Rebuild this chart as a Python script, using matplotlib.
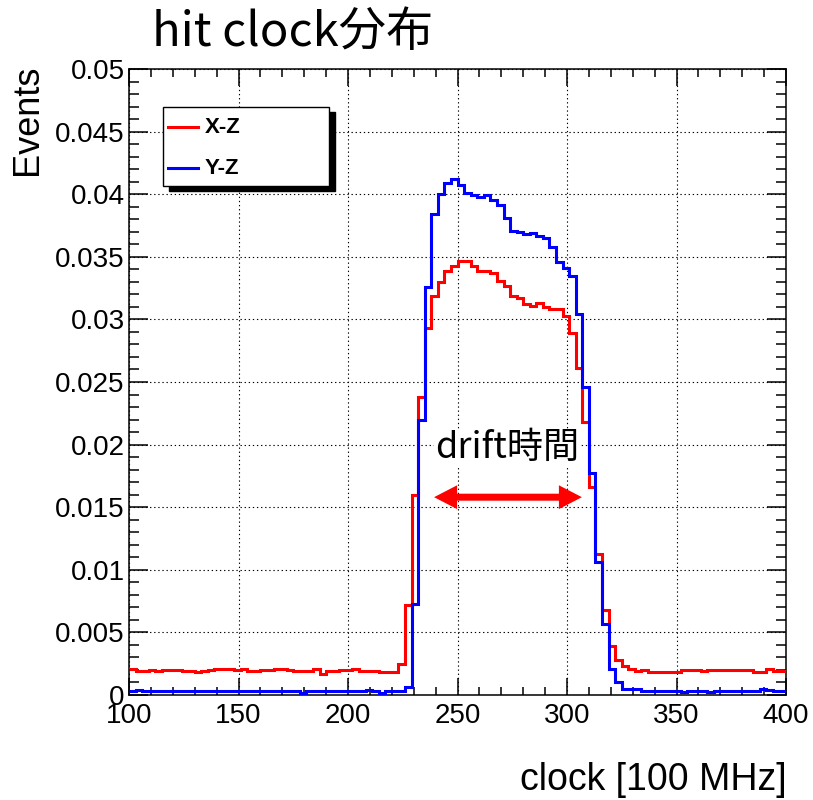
import numpy as np
import matplotlib
matplotlib.use("Agg")
import matplotlib.pyplot as plt
from matplotlib.patches import Rectangle
from matplotlib.lines import Line2D

# histogram binning: 100 bins of 3 clocks from 100 to 400
X_MIN, X_MAX, BIN_W = 100, 400, 3
edges = np.arange(X_MIN, X_MAX + 1, BIN_W)

# X-Z (red), normalised counts per bin
xz = [0.0021, 0.0019, 0.0019, 0.0020, 0.0019, 0.0020, 0.0020, 0.0020, 0.0019, 0.0019,
      0.0018, 0.0019, 0.0020, 0.0021, 0.0021, 0.0021, 0.0020, 0.0021, 0.0019, 0.0019,
      0.0020, 0.0020, 0.0021, 0.0021, 0.0020, 0.0019, 0.0019, 0.0019, 0.0021, 0.0017,
      0.0019, 0.0019, 0.0020, 0.0020, 0.0021, 0.0019, 0.0019, 0.0019, 0.0018, 0.0018,
      0.0018, 0.0025, 0.0072, 0.0160, 0.0238, 0.0293, 0.0319, 0.0330, 0.0339, 0.0343,
      0.0347, 0.0347, 0.0343, 0.0339, 0.0339, 0.0337, 0.0331, 0.0327, 0.0319, 0.0317,
      0.0312, 0.0311, 0.0313, 0.0310, 0.0308, 0.0308, 0.0303, 0.0289, 0.0261, 0.0218,
      0.0166, 0.0113, 0.0068, 0.0039, 0.0028, 0.0023, 0.0021, 0.0019, 0.0020, 0.0018,
      0.0018, 0.0018, 0.0018, 0.0018, 0.0020, 0.0020, 0.0020, 0.0019, 0.0020, 0.0020,
      0.0020, 0.0020, 0.0020, 0.0020, 0.0020, 0.0018, 0.0018, 0.0021, 0.0019, 0.0019]

# Y-Z (blue)
yz = [0.0003, 0.0004, 0.0003, 0.0003, 0.0003, 0.0003, 0.0003, 0.0003, 0.0003, 0.0003,
      0.0003, 0.0003, 0.0003, 0.0003, 0.0003, 0.0003, 0.0003, 0.0003, 0.0003, 0.0003,
      0.0003, 0.0003, 0.0003, 0.0003, 0.0003, 0.0003, 0.00015, 0.0003, 0.0003, 0.0003,
      0.0003, 0.0003, 0.0003, 0.0003, 0.0003, 0.0003, 0.0004, 0.0003, 0.00015, 0.0003,
      0.0003, 0.0003, 0.0006, 0.0073, 0.0220, 0.0326, 0.0384, 0.0400, 0.0409, 0.0412,
      0.0407, 0.0401, 0.0399, 0.0398, 0.0399, 0.0395, 0.0391, 0.0381, 0.0371, 0.0370,
      0.0368, 0.0369, 0.0367, 0.0365, 0.0358, 0.0346, 0.0341, 0.0335, 0.0304, 0.0246,
      0.0177, 0.0106, 0.0057, 0.0021, 0.0010, 0.0005, 0.0005, 0.0005, 0.0003, 0.0003,
      0.0003, 0.0003, 0.0003, 0.0003, 0.0002, 0.0003, 0.0003, 0.0003, 0.0002, 0.0003,
      0.0003, 0.0003, 0.0003, 0.0003, 0.0003, 0.0003, 0.0005, 0.0004, 0.0003, 0.0003]

series_names = ["X-Z", "Y-Z"]
series_colors = ["#ff0000", "#0000ff"]

x_ticks = [100, 150, 200, 250, 300, 350, 400]
y_ticks = [0, 0.005, 0.01, 0.015, 0.02, 0.025, 0.03, 0.035, 0.04, 0.045, 0.05]
y_tick_labels = ["0", "0.005", "0.01", "0.015", "0.02", "0.025", "0.03",
                 "0.035", "0.04", "0.045", "0.05"]

title = "hit clock分布"
x_title = "clock [100 MHz]"
y_title = "Events"
drift_label = "drift時間"
drift_range = (239.3, 306.8)   # arrow ends (clock)
drift_y = 0.0158

LATIN = ["Liberation Sans", "DejaVu Sans"]
CJK = ["Noto Sans CJK JP", "DejaVu Sans"]

fig = plt.figure(figsize=(8.13, 8.0), dpi=100)
ax = fig.add_axes([0.1587, 0.13125, 0.8081, 0.7825])

for v, c in zip([xz, yz], series_colors):
    ax.stairs(v, edges, baseline=None, color=c, lw=2.2, zorder=3)

ax.set_xlim(X_MIN, X_MAX)
ax.set_ylim(0, 0.05)
ax.set_xticks(x_ticks)
ax.set_xticks(np.arange(X_MIN, X_MAX + 1, 10), minor=True)
ax.set_yticks(y_ticks)
ax.set_yticklabels(y_tick_labels)
ax.set_yticks(np.arange(0, 0.0501, 0.001), minor=True)
ax.grid(True, which="major", color="black", lw=0.8, ls=(0, (1.2, 2.5)), zorder=1)

ax.tick_params(which="both", direction="in", top=True, right=True, colors="black")
ax.tick_params(axis="y", which="major", length=14, width=1.1, pad=3)
ax.tick_params(axis="y", which="minor", length=7, width=1.1)
ax.tick_params(axis="x", which="major", length=12, width=1.1, pad=6)
ax.tick_params(axis="x", which="minor", length=6, width=1.1)
for lab in ax.get_xticklabels() + ax.get_yticklabels():
    lab.set_family(LATIN)
    lab.set_fontsize(20)
for s in ax.spines.values():
    s.set_linewidth(1.1)

# titles
fig.text(152 / 813, 1 - 33 / 800, title, family=CJK, fontsize=34, ha="left", va="center")
fig.text(787 / 813, 1 - 780 / 800, x_title, family=LATIN, fontsize=27, ha="right", va="center")
fig.text(28 / 813, 1 - 65 / 800, y_title, family=LATIN, fontsize=26, ha="center", va="top",
         rotation=90)

# drift arrow and label
mid = (drift_range[0] + drift_range[1]) / 2
for end in drift_range:
    ax.arrow(mid, drift_y, end - mid, 0, width=0.00056, head_width=0.0019,
             head_length=10.5, length_includes_head=True, color="#ff0000", lw=0, zorder=5)
ax.text(272.6, 0.0197, drift_label, family=CJK, fontsize=26, ha="center", va="center",
        zorder=4, bbox=dict(facecolor="white", edgecolor="none", pad=1))

# ROOT-style legend box with hard shadow
bx0, bx1, by0, by1 = 0.0518, 0.3044, 0.8131, 0.9393
ax.add_patch(Rectangle((bx0 + 0.009, by0 - 0.008), bx1 - bx0, by1 - by0, transform=ax.transAxes,
                       facecolor="black", edgecolor="black", zorder=6))
ax.add_patch(Rectangle((bx0, by0), bx1 - bx0, by1 - by0, transform=ax.transAxes,
                       facecolor="white", edgecolor="black", lw=1.0, zorder=7))
for i, (name, c) in enumerate(zip(series_names, series_colors)):
    yy = 0.9073 - i * 0.0655
    ax.add_line(Line2D([0.0594, 0.1050], [yy, yy], transform=ax.transAxes, color=c, lw=2.2,
                       zorder=8))
    ax.text(0.1157, yy, name, transform=ax.transAxes, family=LATIN, fontsize=16,
            fontweight="bold", ha="left", va="center", zorder=8)

fig.savefig("out.png", dpi=100, facecolor="white")
